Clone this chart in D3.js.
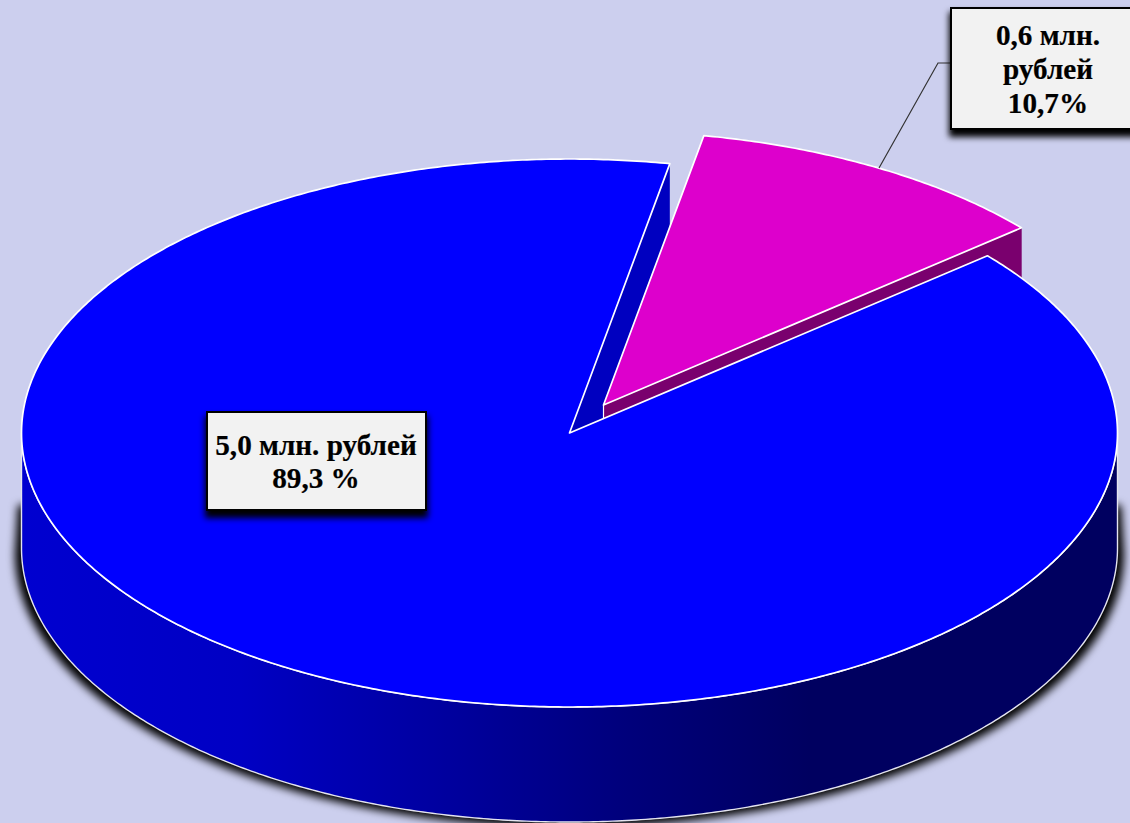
<!DOCTYPE html>
<html><head><meta charset="utf-8">
<script src="https://cdn.jsdelivr.net/npm/d3@7"></script>
<style>html,body{margin:0;padding:0;background:#CCCFEE;overflow:hidden}svg{display:block}</style>
</head><body>
<script>
const categories = ["blue", "magenta"];
const seriesValues = [89.3, 10.7];
const labelLines = [["5,0 млн. рублей", "89,3 %"], ["0,6 млн.", "рублей", "10,7%"]];
const topColors = ["#0000FF", "#DD00CC"];
const wallColors = ["#0000C0", "#7A006E"];

const W = 1130, H = 823, cx = 569.5, cy = 433, rx = 548, ry = 274, depth = 115;
const TAU = Math.PI * 2, deg = Math.PI / 180;
const svg = d3.select("body").append("svg").attr("width", W).attr("height", H);
const defs = svg.append("defs");
svg.append("rect").attr("width", W).attr("height", H).attr("fill", "#CCCFEE");

const wallGrad = defs.append("linearGradient").attr("id", "wallGrad")
  .attr("gradientUnits", "userSpaceOnUse").attr("x1", 21).attr("x2", 1117).attr("y1", 0).attr("y2", 0);
[[0, "#0000D0"], [0.2, "#0000C4"], [0.4, "#00009C"], [0.55, "#00007C"], [0.72, "#000060"], [1, "#000060"]]
  .forEach(([o, c]) => wallGrad.append("stop").attr("offset", o).attr("stop-color", c));

const blur = (id, s) => defs.append("filter").attr("id", id)
  .attr("x", "-10%").attr("y", "-30%").attr("width", "120%").attr("height", "160%")
  .append("feGaussianBlur").attr("stdDeviation", s);
blur("wallShadow", 4);
blur("boxShadow", 3);

const pie = d3.pie().sort(null).startAngle(0).endAngle(TAU);
const arcs = pie(seriesValues);
const bladeEnd = arcs[0].endAngle;
// pie angle -> drawn angle on the tilted ellipse
const angle = d3.scaleLinear().domain([0, bladeEnd, TAU])
  .range([49.7 * deg, 370.55 * deg, 409.7 * deg]);

const xS = d3.scaleLinear().domain([-1, 1]).range([cx - rx, cx + rx]);
const yS = d3.scaleLinear().domain([-1, 1]).range([cy + ry, cy - ry]);
const ptAt = (t, r = 1) => [r * Math.sin(t), r * Math.cos(t)];
const line = d3.line().x(d => xS(d[0]) + (d[2] || 0)).y(d => yS(d[1]) + (d[3] || 0));
const arcPts = (a, b, dx = 0, dy = 0) => {
  const n = Math.max(2, Math.ceil(Math.abs(b - a) / (0.5 * deg)));
  return d3.range(n + 1).map(i => {
    const t = a + (b - a) * i / n, p = ptAt(t);
    return [p[0], p[1], dx, dy];
  });
};
const sector = (a, b, dx = 0, dy = 0) =>
  line([[0, 0, dx, dy], ...arcPts(a, b, dx, dy)]) + "Z";
const cutWall = (t, dx, dy) => {
  const p = ptAt(t);
  return line([[0, 0, dx, dy], [p[0], p[1], dx, dy], [p[0], p[1], dx, dy + depth], [0, 0, dx, dy + depth]]) + "Z";
};
const outerWall = (a, b, dx, dy) =>
  line([...arcPts(a, b, dx, dy), ...arcPts(b, a, dx, dy + depth)]) + "Z";

const blueA = angle(arcs[0].startAngle), blueB = angle(arcs[0].endAngle);
const magA = angle(arcs[1].startAngle), magB = angle(arcs[1].endAngle);
const off = [34, -28];

// soft shadow under the drum, tapering off as it rises along the sides
svg.append("path")
  .attr("d", line([...arcPts(90 * deg, 270 * deg, 0, depth + 5), [-1, 0, 3, 72], [1, 0, -3, 72]]) + "Z")
  .attr("transform", `translate(${cx},0) scale(1.012,1) translate(${-cx},0)`)
  .attr("fill", "#000").attr("filter", "url(#wallShadow)");

// blue cut face seen through the gap
svg.append("path").attr("d", cutWall(blueB, 0, 0)).attr("fill", wallColors[0]);

// magenta walls and top
svg.append("path").attr("d", outerWall(magA, magB, off[0], off[1])).attr("fill", wallColors[1]);
svg.append("path").attr("d", cutWall(magB, off[0], off[1])).attr("fill", wallColors[1]);
svg.append("path").attr("d", line([[0, 0, off[0], off[1]], [0, 0, off[0], off[1] + 16]]))
  .attr("stroke", "#fff").attr("stroke-width", 1.2).attr("fill", "none");
svg.append("path").attr("d", sector(magA, magB, off[0], off[1]))
  .attr("fill", topColors[1]).attr("stroke", "#fff").attr("stroke-width", 1.7).attr("stroke-linejoin", "round");

// blue outer wall
svg.append("path").attr("d", outerWall(90 * deg, 270 * deg, 0, 0))
  .attr("fill", "url(#wallGrad)").attr("stroke", "#E4E4F0").attr("stroke-width", 1.4);

// blue top
svg.append("path").attr("d", sector(blueA, blueB))
  .attr("fill", topColors[0]).attr("stroke", "#fff").attr("stroke-width", 1.7).attr("stroke-linejoin", "round");

// leader line
const boxes = [
  {x: 207, y: 412, w: 219, h: 98, cx: 316, base: [455, 488]},
  {x: 951, y: 8, w: 196, h: 121, cx: 1048, base: [45, 79, 113]}
];
svg.append("path").attr("d", d3.line()([[879, 168], [938, 63], [951, 63]]))
  .attr("fill", "none").attr("stroke", "#333").attr("stroke-width", 1.2);

const g = svg.selectAll("g.lab").data(boxes).join("g").attr("class", "lab");
g.append("rect").attr("x", d => d.x - 2).attr("y", d => d.y + 4).attr("width", d => d.w + 4).attr("height", d => d.h + 4)
  .attr("fill", "#000").attr("filter", "url(#boxShadow)");
g.append("rect").attr("x", d => d.x).attr("y", d => d.y).attr("width", d => d.w).attr("height", d => d.h)
  .attr("fill", "#F2F2F2").attr("stroke", "#000").attr("stroke-width", 2);
g.each(function (d, i) {
  d3.select(this).selectAll("text").data(labelLines[i]).join("text")
    .attr("x", d.cx).attr("y", (_, j) => d.base[j])
    .attr("text-anchor", "middle")
    .attr("font-family", "'Liberation Serif','Times New Roman',serif")
    .attr("font-weight", "bold").attr("font-size", 29.2).attr("fill", "#000")
    .attr("stroke", "#000").attr("stroke-width", 0.2)
    .text(t => t);
});
</script>
</body></html>
